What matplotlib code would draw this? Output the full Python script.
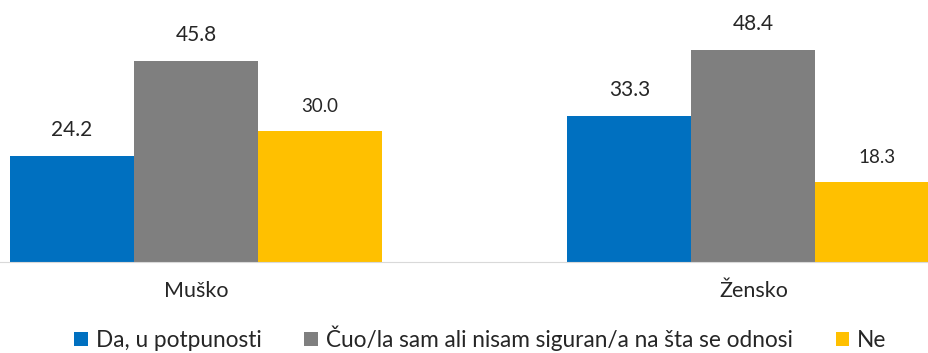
import matplotlib.pyplot as plt
import numpy as np

groups = ["Muško", "Žensko"]
series = ["Da, u potpunosti", "Čuo/la sam ali nisam siguran/a na šta se odnosi", "Ne"]
da = [24.2, 33.3]
cuo = [45.8, 48.4]
ne = [30.0, 18.3]
colors = ["#0070C0", "#7F7F7F", "#FFC000"]

plt.rcParams["font.family"] = ["Lato", "DejaVu Sans"]


def main():
    fig = plt.figure(figsize=(9.29, 3.53), dpi=100)
    ax = fig.add_axes([0, 91 / 353, 1, 262 / 353])
    plot_data(ax)
    set_properties(ax, fig)
    fig.savefig("out.png", dpi=100)


def plot_data(ax):
    x = np.arange(len(groups))
    w = 124 / 557.5
    values = [da, cuo, ne]
    sizes = [15, 15, 13.5]
    for i, (name, vals) in enumerate(zip(series, values)):
        pos = x + (i - 1) * w
        ax.bar(pos, vals, width=w, color=colors[i], label=name)
        for p, v in zip(pos, vals):
            ax.annotate(f"{v:.1f}", (p, v), xytext=(0, 11.5), textcoords="offset points",
                        ha="center", va="bottom", fontsize=sizes[i], color="#262626")


def set_properties(ax, fig):
    ax.set_xlim(-196 / 557.5, 1 + (929 - 753.5) / 557.5)
    ax.set_ylim(0, 262 / 4.38)
    ax.set_xticks(np.arange(len(groups)))
    ax.set_xticklabels(groups, fontsize=15.5, color="#262626")
    ax.tick_params(axis="x", length=0, pad=14)
    ax.set_yticks([])
    for side in ["top", "right", "left"]:
        ax.spines[side].set_visible(False)
    ax.spines["bottom"].set_color("#D9D9D9")
    # legend kept just inside the bottom edge so descenders are not clipped
    fig.legend(loc="lower center", bbox_to_anchor=(0.517, -0.052), ncol=3, frameon=False,
               fontsize=16.3, handlelength=0.6, handleheight=0.6, handletextpad=0.35,
               columnspacing=1.9, labelcolor="#262626")


if __name__ == "__main__":
    main()
